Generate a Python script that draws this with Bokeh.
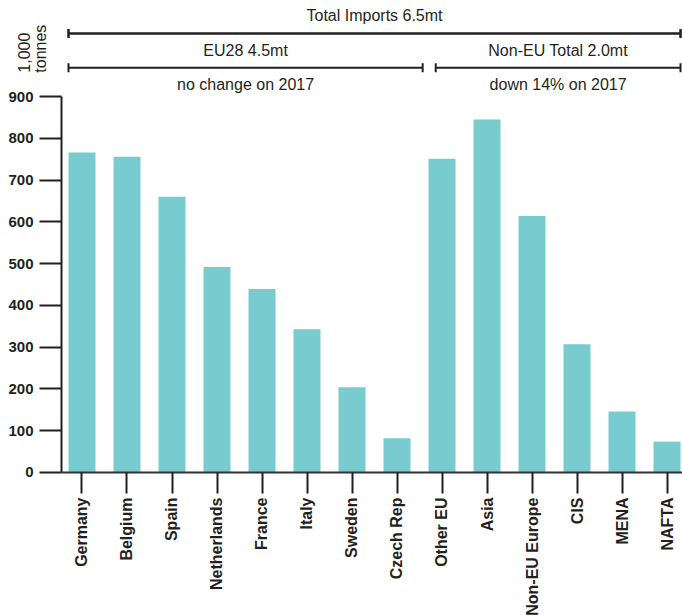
import math
from bokeh.plotting import figure
from bokeh.models import (ColumnDataSource, Range1d, FixedTicker, Label, Arrow, TeeHead,
                          LinearAxis)
from bokeh.embed import file_html
from bokeh.resources import INLINE

# ---- data ----
categories = ["Germany", "Belgium", "Spain", "Netherlands", "France", "Italy",
              "Sweden", "Czech Rep", "Other EU", "Asia", "Non-EU Europe",
              "CIS", "MENA", "NAFTA"]
imports_kt = [766, 756, 660, 492, 439, 343, 204, 82, 751, 845, 614, 307, 146, 74]
y_ticks = [0, 100, 200, 300, 400, 500, 600, 700, 800, 900]

total_label = "Total Imports 6.5mt"
groups = ["EU28 4.5mt", "Non-EU Total 2.0mt"]
group_notes = ["no change on 2017", "down 14% on 2017"]
unit_lines = ["1,000", "tonnes"]

FONT = "Liberation Sans"
INK = "#231f20"
BAR = "#78cccf"
BAR_W = 0.6

idx = list(range(len(categories)))
src = ColumnDataSource(dict(x=idx, top=imports_kt, name=categories))

X0, X1 = -1.811, 13.344      # visible x extent (category index units)
AXIS_X = -0.4556             # where the value axis sits
p = figure(width=682, height=615, output_backend="svg", toolbar_location=None,
           x_range=Range1d(X0, X1), y_range=Range1d(-342.3, 1129.8),
           y_axis_location=None, x_axis_location=None,
           min_border_left=0, min_border_right=0, min_border_top=0,
           min_border_bottom=0, outline_line_color=None)
p.xgrid.visible = False
p.ygrid.visible = False

p.vbar(x="x", top="top", width=BAR_W, source=src, fill_color=BAR, line_color=None)

def style_axis(ax, size):
    ax.axis_line_width = 2
    ax.major_tick_line_color = INK
    ax.major_tick_line_width = 2
    ax.major_tick_in = 0
    ax.minor_tick_line_color = None
    ax.major_label_text_font = FONT
    ax.major_label_text_font_style = "bold"
    ax.major_label_text_font_size = size
    ax.major_label_text_color = INK

# y axis
ya = LinearAxis(fixed_location=AXIS_X)
style_axis(ya, "15px")
ya.ticker = FixedTicker(ticks=y_ticks)
ya.bounds = (0, 900)
ya.axis_line_color = INK
ya.major_tick_out = 22
ya.major_label_standoff = 6
p.add_layout(ya, "left")

# x axis
xa = LinearAxis(fixed_location=0)
style_axis(xa, "16px")
xa.ticker = FixedTicker(ticks=idx)
xa.bounds = (AXIS_X, X1)
xa.major_label_overrides = {i: c for i, c in zip(idx, categories)}
xa.major_label_orientation = math.pi / 2
xa.axis_line_color = "#333333"
xa.major_tick_out = 21
xa.major_label_standoff = 4
p.add_layout(xa, "below")

# ---- brackets above the bars ----
first_left = idx[0] - BAR_W / 2
last_right = idx[-1] + BAR_W / 2
split_left, split_right = 7.57, 7.86
spans = [(first_left, split_left), (split_right, last_right)]

def bracket(x0, x1, y, w):
    p.add_layout(Arrow(x_start=x0, x_end=x1, y_start=y, y_end=y,
                       line_color=INK, line_width=w,
                       start=TeeHead(size=9, line_color=INK, line_width=w),
                       end=TeeHead(size=9, line_color=INK, line_width=w)))

def text(x, y, s, size="16px", style="normal", angle=0.0, align="center", base="middle"):
    p.add_layout(Label(x=x, y=y, text=s, text_font=FONT, text_font_size=size,
                       text_font_style=style, text_color=INK, angle=angle,
                       text_align=align, text_baseline=base))

bracket(first_left, last_right, 1051, 2.5)
text((first_left + last_right) / 2, 1094, total_label)
for (a, b), g, n in zip(spans, groups, group_notes):
    bracket(a, b, 969, 2)
    text((a + b) / 2, 1010, g)
    text((a + b) / 2, 929, n)

# unit label, rotated
text(-1.28, 957, unit_lines[0], size="16px", angle=math.pi / 2, align="left", base="alphabetic")
text(-0.93, 957, unit_lines[1], size="16px", angle=math.pi / 2, align="left", base="alphabetic")

open("out.html", "w").write(file_html(p, INLINE))
